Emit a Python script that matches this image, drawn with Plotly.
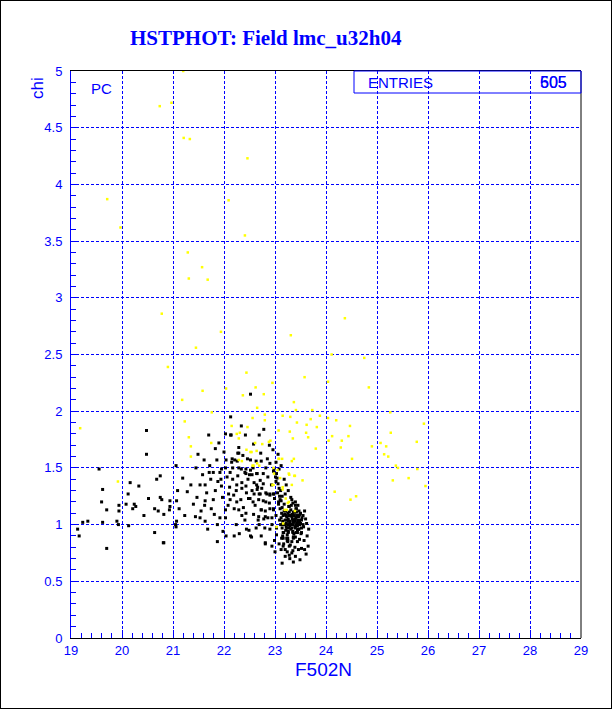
import plotly.graph_objects as go

# ---------------- data ----------------
black_left = [
    (20.48,1.83),(20.48,1.62),(19.55,1.49),(21.06,1.52),(20.75,1.43),(20.68,1.40),(20.16,1.37),(20.33,1.34),(19.62,1.31),(21.09,1.30),
    (20.12,1.27),(20.52,1.23),(20.75,1.24),(20.78,1.22),(20.94,1.21),(21.07,1.21),(19.60,1.20),(20.08,1.18),(20.24,1.18),(19.94,1.17),
    (20.27,1.16),(20.64,1.14),(19.70,1.13),(19.94,1.12),(20.21,1.14),(20.71,1.12),(20.93,1.13),(20.94,1.16),(20.43,1.08),(20.82,1.09),
    (21.07,1.03),(19.33,1.03),(19.23,1.02),(19.62,1.02),(19.90,1.03),(19.93,1.00),(20.13,0.99),(21.06,0.98),(19.13,0.96),(20.64,0.93),
    (19.16,0.90),(20.82,0.84),(19.70,0.79),
]
black_mid = [
    (22.52,2.15),(22.13,1.95),(21.70,1.79),(22.03,1.80),(22.13,1.79),(22.69,1.79),(22.42,1.79),(21.83,1.67),(21.49,1.62),(21.61,1.57),
    (21.86,1.57),(22.04,1.57),(22.27,1.63),(22.46,1.58),(22.63,1.56),(22.26,1.56),(21.45,1.50),(21.95,1.49),(22.03,1.50),(22.17,1.50),
    (22.29,1.50),(22.43,1.49),(22.57,1.50),(22.82,1.50),(22.98,1.49),(21.79,1.46),(21.71,1.46),(21.92,1.46),(22.12,1.46),(22.43,1.45),
    (22.50,1.44),(22.65,1.45),(22.77,1.45),(22.17,1.40),(21.74,1.40),(21.94,1.40),(22.64,1.35),(22.66,1.33),(21.35,1.35),(21.53,1.35),
    (21.63,1.35),(21.95,1.34),(22.25,1.35),(22.43,1.34),(21.83,1.30),(22.09,1.27),(22.24,1.30),(22.35,1.32),(22.71,1.27),(22.82,1.28),
    (22.90,1.26),(22.98,1.27),(21.63,1.21),(21.79,1.22),(22.12,1.22),(22.25,1.20),(22.51,1.23),(22.68,1.22),(22.82,1.20),(21.62,1.17),
    (21.75,1.14),(22.03,1.13),(22.29,1.13),(22.20,1.14),(22.73,1.13),(22.90,1.14),(22.97,1.14),(21.23,1.08),(21.44,1.07),(21.53,1.06),
    (21.63,1.03),(21.92,1.06),(22.03,1.06),(22.35,1.08),(22.68,1.07),(22.86,1.06),(21.87,1.00),(22.24,1.00),(22.69,1.00),(22.94,1.00),
    (21.05,1.00),(22.04,0.90),(22.20,0.90),(22.52,0.90),(22.81,0.83),(21.87,0.85),(20.81,0.84),(22.94,0.81),
    (22.34,1.87),(22.14,1.79),(22.78,1.84),(22.29,1.68),(22.29,1.63),(22.89,1.70),(22.16,1.58),(22.21,1.57),(22.52,1.57),(22.73,1.56),
    (22.90,1.54),(22.97,1.47),(23.01,1.42),(23.08,1.49),
]
black_mid_extra = [
    (21.58,1.44),(21.66,1.28),(21.72,1.52),(21.88,1.38),(21.97,1.24),(22.06,1.42),(22.11,1.33),(22.19,1.26),(22.27,1.43),(22.33,1.22),
    (22.38,1.15),(22.47,1.40),(22.55,1.30),(22.61,1.17),(22.74,1.32),(22.86,1.42),(22.93,1.35),(21.47,1.24),(21.55,1.12),(21.81,1.09),
    (22.08,1.17),(22.41,1.04),(22.58,1.09),(22.78,1.05),(21.68,0.96),(21.98,0.94),(22.30,0.92),(22.63,0.97),(21.40,1.18),(21.28,1.29),
    (21.19,1.41),(21.12,1.14),(22.15,1.55),(22.37,1.61),(22.72,1.63),(22.58,1.71),(21.90,1.72),(22.00,1.64),(22.52,1.48),(22.85,1.58),
    (23.02,1.55),(23.06,1.62),(22.96,1.66),(23.12,1.52),(23.18,1.40),(23.22,1.35),(23.14,1.25),(23.20,1.27),(23.26,1.30),(23.31,1.24),
    (23.40,1.20),(23.45,1.17),(23.58,1.12),(23.60,1.05),(23.63,0.90),(23.57,0.86),(23.58,0.78),(23.46,0.78),(23.40,0.72),(23.20,0.72),
    (23.12,0.78),(23.08,0.83),(23.00,0.76),(23.14,0.66),(23.36,0.67),
]
black_cluster = [
    (22.34,1.49),(22.41,1.46),(22.55,1.44),(22.64,1.45),(22.35,1.37),(22.59,1.37),(22.71,1.39),(22.77,1.36),(22.65,1.31),(22.44,1.28),
    (22.59,1.27),(22.69,1.27),(22.84,1.27),(22.90,1.27),(22.97,1.27),(22.48,1.23),(22.57,1.20),(22.77,1.21),(22.89,1.19),(22.99,1.23),
    (23.07,1.20),(22.43,1.10),(22.73,1.13),(22.81,1.12),(22.97,1.13),(23.10,1.14),(23.28,1.16),(23.32,1.17),(23.42,1.14),(23.36,1.11),
    (23.42,1.11),(22.81,1.07),(22.94,1.06),(23.02,1.08),(23.16,1.08),(23.22,1.08),(23.28,1.08),(23.33,1.08),(23.38,1.08),(23.47,1.08),
    (23.55,1.08),(23.23,1.04),(23.30,1.03),(23.36,1.04),(23.40,1.03),(23.46,1.04),(23.16,1.00),(23.25,1.00),(23.30,1.00),(23.36,1.00),
    (23.42,1.00),(23.48,1.00),(23.55,1.00),(23.62,1.01),(22.67,1.04),(22.44,0.96),(22.49,0.95),(22.80,0.97),(22.90,0.96),(23.03,0.97),
    (23.23,0.97),(23.33,0.97),(23.40,0.97),(23.47,0.96),(23.52,0.97),(23.16,0.93),(23.26,0.93),(23.35,0.93),(23.44,0.93),(23.52,0.93),
    (23.66,0.96),(23.03,0.91),(23.13,0.88),(23.25,0.88),(23.36,0.88),(23.40,0.89),(22.54,0.89),(22.81,0.84),(22.99,0.86),(23.25,0.85),
    (23.33,0.85),(23.44,0.85),(23.16,0.81),(23.28,0.81),(23.39,0.80),(23.52,0.79),(23.24,0.76),(23.33,0.75),(23.29,0.70),(23.49,0.69),
    (23.61,0.74),(23.65,0.81),(22.73,0.90),
]
black_core = [
    (23.12,1.06),(23.15,1.03),(23.19,1.09),(23.22,1.01),(23.26,1.05),(23.29,0.99),(23.33,1.07),(23.36,1.02),(23.40,1.05),(23.44,0.99),
    (23.48,1.03),(23.53,1.06),(23.14,0.97),(23.18,1.12),(23.21,0.95),(23.25,1.10),(23.31,1.13),(23.35,0.94),(23.38,1.11),(23.43,1.08),
    (23.46,0.96),(23.50,1.01),(23.11,1.00),(23.17,0.93),(23.23,1.07),(23.28,1.11),(23.32,1.00),(23.37,0.92),(23.41,1.14),(23.45,1.02),
    (23.49,1.09),(23.56,0.98),(23.13,1.10),(23.20,1.04),(23.24,0.91),(23.27,1.16),(23.34,1.05),(23.39,0.98),(23.42,0.93),(23.47,1.12),
    (23.52,1.04),(23.16,0.88),(23.22,0.98),(23.26,1.03),(23.30,1.08),(23.36,0.89),(23.40,1.17),(23.44,0.95),(23.51,0.92),(23.09,1.04),
    (23.14,1.15),(23.19,1.00),(23.25,0.86),(23.31,0.96),(23.35,1.19),(23.43,1.01),(23.48,0.87),(23.12,1.21),(23.18,1.18),(23.23,0.88),
    (23.29,1.01),(23.34,1.09),(23.38,1.03),(23.46,1.07),(23.15,0.90),(23.21,1.12),(23.27,0.97),(23.33,1.22),(23.41,1.06),(23.50,1.10),
    (23.05,1.28),(23.08,1.32),(23.10,1.22),(23.06,1.36),(23.04,1.41),(23.09,1.25),(23.07,1.18),(23.03,1.45),(23.11,1.30),(23.02,1.38),
    (23.17,0.83),(23.24,0.86),(23.30,0.82),(23.37,0.89),(23.20,0.78),(23.28,0.73),(23.35,0.77),(23.26,0.94),
]
yellow_points = [
    (21.20,5.00),(20.74,4.69),(20.97,4.72),(21.21,4.41),(21.33,4.40),(22.46,4.23),(19.71,3.87),(22.09,3.86),(19.97,3.62),(22.41,3.55),
    (21.29,3.40),(21.57,3.27),(21.31,3.17),(21.68,3.16),(20.78,2.86),(24.37,2.82),(21.94,2.70),(23.31,2.67),(21.45,2.56),(24.11,2.50),
    (20.90,2.39),(22.44,2.34),(23.58,2.30),(24.75,2.47),(24.04,2.26),(24.84,2.21),(23.37,2.08),(23.41,2.01),(23.73,2.01),(25.26,1.99),
    (23.15,1.96),(23.30,1.95),(23.70,1.93),(23.88,1.96),(24.04,1.94),(24.20,1.92),(23.43,1.90),(23.62,1.88),(24.47,1.87),(23.82,1.86),
    (25.92,1.89),(23.29,1.82),(23.61,1.81),(23.65,1.77),(24.12,1.78),(24.44,1.78),(25.27,1.81),(23.35,1.76),(24.05,1.74),(24.31,1.74),
    (25.78,1.73),(25.07,1.72),(25.18,1.69),(24.90,1.69),(24.29,1.68),(23.80,1.67),(25.14,1.62),(25.22,1.60),(23.14,1.58),(23.33,1.56),
    (23.37,1.58),(24.51,1.58),(25.37,1.52),(25.41,1.50),(25.79,1.49),(23.27,1.45),(23.38,1.43),(23.54,1.39),(23.33,1.35),(25.31,1.39),
    (25.62,1.41),(25.95,1.34),(24.17,1.29),(24.59,1.25),(24.48,1.22),(23.15,1.33),
    (21.58,2.18),(22.95,2.25),(22.37,2.14),(22.62,2.21),(22.78,2.15),(22.04,2.20),(22.65,2.03),(21.76,1.99),(22.56,1.94),(22.80,1.97),
    (22.80,1.92),(22.15,1.87),(22.46,1.86),(23.07,1.83),(22.25,1.80),(22.31,1.81),(22.29,1.76),(22.61,1.72),(22.75,1.71),(22.88,1.73),
    (22.91,1.74),(21.75,1.72),(22.54,1.64),(22.64,1.65),(22.29,1.57),(22.35,1.56),(22.56,1.52),(23.07,1.58),(22.69,1.52),(23.05,1.48),
    (23.10,1.41),(22.98,1.45),
    (21.18,2.10),(21.23,1.91),(21.31,1.77),(21.35,1.69),(21.35,1.60),(23.15,1.31),(23.21,1.23),(23.25,1.19),(23.23,1.13),(22.95,1.35),
    (23.03,0.98),(19.18,1.85),(19.92,1.38),
    (22.44,1.66),(22.52,1.64),(22.58,1.52),(22.65,1.54),(23.08,1.58),(22.97,1.50),(23.28,1.44),(23.39,1.43),(22.97,1.35),(23.27,1.20),
    (23.19,1.13),(23.39,1.12),(23.16,1.01),
]

title_text = "HSTPHOT: Field lmc_u32h04"
x_title = "F502N"
y_title = "chi"
stats_label = "ENTRIES"
stats_values = ["605", "505"]
option_label = "PC"
x_range = [19, 29]
y_range = [0, 5]

# ---------------- build ----------------
black_all = black_left + black_mid + black_mid_extra + black_cluster + black_core
bx = [p[0] for p in black_all]
by = [p[1] for p in black_all]
yx = [p[0] for p in yellow_points]
yy = [p[1] for p in yellow_points]

W, H = 612, 709
L, R, T, B = 71, 31, 71, 71
PW, PH = W - L - R, H - T - B

def xp(px):
    return (px - L) / PW

def yp(py):
    return (H - B - py) / PH

BLUE = "#0000ff"
FONT = "Liberation Sans, Arial, sans-serif"

fig = go.Figure()
fig.add_trace(go.Scatter(x=bx, y=by, mode="markers", hoverinfo="skip",
                         marker=dict(symbol="square", size=3, color="black", line=dict(width=0))))
fig.add_trace(go.Scatter(x=yx, y=yy, mode="markers", hoverinfo="skip",
                         marker=dict(symbol="square", size=2.5, color="#ffff00", line=dict(width=0))))

axis_common = dict(
    showgrid=True, gridcolor=BLUE, gridwidth=1, griddash="3px,2px",
    ticks="inside", ticklen=8, tickcolor=BLUE, tickwidth=1,
    tickfont=dict(family=FONT, size=13, color=BLUE),
    zeroline=False, showline=True, linewidth=1,
)

fig.update_layout(
    width=W, height=H,
    margin=dict(l=L, r=R, t=T, b=B, pad=0),
    paper_bgcolor="white", plot_bgcolor="white",
    showlegend=False,
    xaxis=dict(range=x_range, tick0=19, dtick=1, linecolor="black", mirror=True,
               ticklabelstandoff=0,
               minor=dict(dtick=0.2, ticks="inside", ticklen=5, tickcolor=BLUE, showgrid=False),
               **axis_common),
    yaxis=dict(range=y_range, tick0=0, dtick=0.5, linecolor=BLUE, mirror=False,
               ticklabelstandoff=5,
               minor=dict(dtick=0.1, ticks="inside", ticklen=5, tickcolor=BLUE, showgrid=False),
               **axis_common),
    shapes=[
        dict(type="line", xref="paper", yref="paper", x0=1, x1=1, y0=0, y1=1,
             line=dict(color="black", width=1)),
        dict(type="rect", xref="paper", yref="paper", x0=xp(354), x1=1, y0=yp(93), y1=1,
             line=dict(color=BLUE, width=1)),
        dict(type="rect", xref="paper", yref="paper", x0=xp(0), x1=xp(W), y0=yp(H), y1=yp(0),
             line=dict(color="black", width=2)),
    ],
    annotations=[
        dict(text="<b>" + title_text + "</b>", xref="paper", yref="paper", x=xp(266), y=yp(38),
             xanchor="center", yanchor="middle", showarrow=False,
             font=dict(family="Liberation Serif, Times New Roman, serif", size=21, color=BLUE)),
        dict(text=x_title, xref="paper", yref="paper", x=xp(323), y=yp(669),
             xanchor="center", yanchor="middle", showarrow=False,
             font=dict(family=FONT, size=19, color=BLUE)),
        dict(text=y_title, xref="paper", yref="paper", x=xp(37), y=yp(88),
             xanchor="center", yanchor="middle", showarrow=False, textangle=-90,
             font=dict(family=FONT, size=17, color=BLUE)),
        dict(text=option_label, xref="paper", yref="paper", x=xp(89), y=yp(88),
             xanchor="left", yanchor="middle", showarrow=False,
             font=dict(family=FONT, size=15, color=BLUE)),
        dict(text=stats_label, xref="paper", yref="paper", x=xp(366), y=yp(82),
             xanchor="left", yanchor="middle", showarrow=False,
             font=dict(family=FONT, size=15, color=BLUE)),
    ] + [
        dict(text=v, xref="paper", yref="paper", x=xp(569), y=yp(82),
             xanchor="right", yanchor="middle", showarrow=False,
             font=dict(family=FONT, size=16, color=BLUE))
        for v in stats_values
    ],
)

fig.write_html("out.html",
               config={"displayModeBar": False},
               post_script="document.body.style.margin='0';document.body.style.overflow='hidden';")
